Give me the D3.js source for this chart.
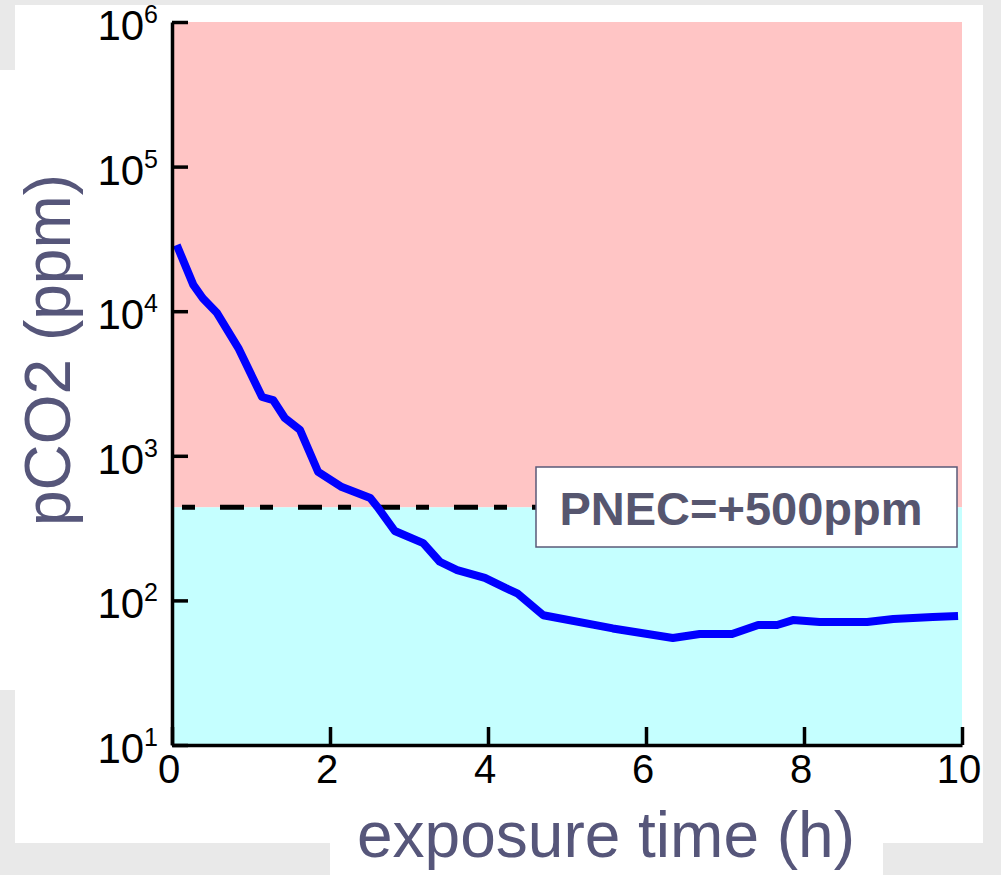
<!DOCTYPE html>
<html>
<head>
<meta charset="utf-8">
<script src="https://cdn.jsdelivr.net/npm/d3@7"></script>
<style>
  html, body { margin: 0; padding: 0; background: #e9e9e9; }
  svg { display: block; }
</style>
</head>
<body>
<div id="chart"></div>
<script>
// exposure time (h) and pCO2 (ppm)
const hours = [0.06, 0.27, 0.39, 0.57, 0.84, 1.14, 1.28, 1.43, 1.62, 1.85, 2.15, 2.51, 2.6, 2.82,
               3.18, 3.39, 3.61, 3.96, 4.22, 4.37, 4.7, 5.58, 6.34, 6.68, 7.09, 7.42, 7.66, 7.86,
               8.2, 8.8, 9.13, 9.63, 9.95];
const pco2 = [28700, 15200, 12300, 9700, 5560, 2550, 2430, 1820, 1510, 773, 608, 511, 443, 302,
              249, 185, 162, 143, 122, 112, 79, 64, 55, 58.6, 58.6, 67.6, 67.6, 73.1,
              70.9, 70.9, 74.3, 76.7, 78];
const xTicks = [0, 2, 4, 6, 8, 10];
const yTicks = [10, 100, 1000, 10000, 100000, 1000000];
const pnec = 440;
const pnecLabel = "PNEC=+500ppm";

const w = 1001, h = 875;
const margin = {top: 22, right: 39, bottom: 130, left: 172};

const svg = d3.select("#chart")
  .append("svg")
  .attr("width", w)
  .attr("height", h);

// white panels over the grey page
svg.append("rect").attr("x", 15).attr("y", 5).attr("width", 968).attr("height", 838).style("fill", "#fff");
svg.append("rect").attr("x", 0).attr("y", 70).attr("width", 15).attr("height", 620).style("fill", "#fff");
svg.append("rect").attr("x", 330).attr("y", 843).attr("width", 553).attr("height", 32).style("fill", "#fff");

const x = d3.scaleLinear()
  .domain([0, 10])
  .range([margin.left, w - margin.right]);

const y = d3.scaleLog()
  .domain([10, 1e6])
  .range([h - margin.bottom, margin.top]);

// zones
svg.append("rect")
  .attr("x", x(0)).attr("y", y(1e6))
  .attr("width", x(10) - x(0)).attr("height", y(pnec) - y(1e6))
  .style("fill", "#ffc5c5");
svg.append("rect")
  .attr("x", x(0)).attr("y", y(pnec))
  .attr("width", x(10) - x(0)).attr("height", y(10) - y(pnec))
  .style("fill", "#c5ffff");

// dashed PNEC line
svg.append("line")
  .attr("x1", x(0)).attr("x2", 536)
  .attr("y1", y(pnec)).attr("y2", y(pnec))
  .style("stroke", "#000")
  .style("stroke-width", 5)
  .style("stroke-dasharray", "13,25,24,16")
  .style("stroke-dashoffset", -10);

// data line
const line = d3.line()
  .x((d, i) => x(hours[i]))
  .y(d => y(d));

svg.append("path")
  .datum(pco2)
  .attr("d", line)
  .style("fill", "none")
  .style("stroke", "#0000ff")
  .style("stroke-width", 8)
  .style("stroke-linejoin", "round");

// axes
const xAxis = d3.axisBottom(x).tickValues(xTicks).tickSizeInner(-18).tickSizeOuter(0).tickFormat("");
const yAxis = d3.axisLeft(y).tickValues(yTicks).tickSizeInner(-16).tickSizeOuter(0).tickFormat("");

const gx = svg.append("g")
  .attr("transform", "translate(0," + y(10) + ")")
  .call(xAxis);
const gy = svg.append("g")
  .attr("transform", "translate(" + x(0) + ",0)")
  .call(yAxis);

[gx, gy].forEach(g => {
  g.select(".domain").style("stroke", "#000").style("stroke-width", 3.5);
  g.selectAll(".tick line").style("stroke", "#000").style("stroke-width", 3.5);
});

svg.selectAll(".xlab")
  .data(xTicks)
  .enter()
  .append("text")
  .attr("x", d => x(d) - 3)
  .attr("y", 783)
  .attr("text-anchor", "middle")
  .style("font-family", "Liberation Sans, Arial, sans-serif")
  .style("font-size", "40px")
  .style("fill", "#000")
  .text(d => d);

const ylab = svg.selectAll(".ylab")
  .data(yTicks)
  .enter()
  .append("text")
  .attr("x", 158)
  .attr("y", d => y(d) + 18)
  .attr("text-anchor", "end")
  .style("font-family", "Liberation Sans, Arial, sans-serif")
  .style("font-size", "42px")
  .style("fill", "#000");
ylab.append("tspan").text("10");
ylab.append("tspan")
  .attr("dy", -17)
  .style("font-size", "25px")
  .text(d => Math.round(Math.log10(d)));

// PNEC box
svg.append("rect")
  .attr("x", 536).attr("y", 467)
  .attr("width", 421).attr("height", 80)
  .style("fill", "#fff")
  .style("stroke", "#5a5a78")
  .style("stroke-width", 1.5);
svg.append("text")
  .attr("x", 741)
  .attr("y", 525)
  .attr("text-anchor", "middle")
  .style("font-family", "Liberation Sans, Arial, sans-serif")
  .style("font-weight", "bold")
  .style("font-size", "47px")
  .style("fill", "#56566f")
  .text(pnecLabel);

// axis titles
svg.append("text")
  .attr("x", 606)
  .attr("y", 857)
  .attr("text-anchor", "middle")
  .style("font-family", "Liberation Sans, Arial, sans-serif")
  .style("font-size", "64px")
  .style("fill", "#56567a")
  .text("exposure time (h)");

svg.append("text")
  .attr("transform", "translate(70,350) rotate(-90)")
  .attr("text-anchor", "middle")
  .style("font-family", "Liberation Sans, Arial, sans-serif")
  .style("font-size", "64px")
  .style("fill", "#56567a")
  .text("pCO2 (ppm)");
</script>
</body>
</html>
